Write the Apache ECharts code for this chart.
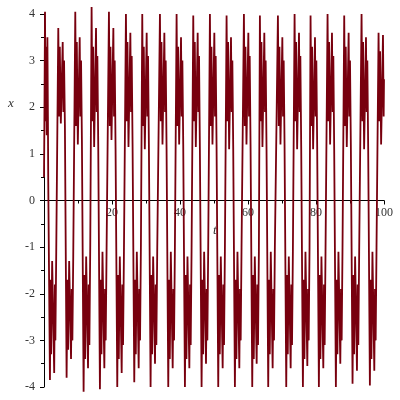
<!DOCTYPE html>
<html>
<head>
<meta charset="utf-8">
<script src="https://cdn.jsdelivr.net/npm/echarts@6/dist/echarts.min.js"></script>
<style>html,body{margin:0;padding:0;background:#fff}#c{width:400px;height:400px}</style>
</head>
<body>
<div id="c"></div>
<script>
const xTicks = [0, 20, 40, 60, 80, 100];
const yTicks = [-4, -3, -2, -1, 0, 1, 2, 3, 4];
const tVals = [
0, 0.1, 0.3, 0.45, 0.6, 0.8, 1.0, 1.15, 1.25, 1.75, 1.95, 2.1, 2.4, 3.0, 3.2, 3.35, 3.6,
4.2, 4.45, 4.65, 4.95, 5.5, 5.7, 5.9, 6.15, 6.65, 6.9, 7.1, 7.4, 7.95, 8.15, 8.35, 8.6,
9.2, 9.45, 9.65, 9.95, 10.5, 10.7, 10.9, 11.15, 11.65, 11.9, 12.1, 12.4, 12.95, 13.15, 13.35, 13.6,
14.0, 14.25, 14.45, 14.75, 15.3, 15.5, 15.7, 15.95, 16.45, 16.7, 16.9, 17.2, 17.75, 17.95, 18.15, 18.4,
19.1, 19.35, 19.55, 19.85, 20.4, 20.6, 20.8, 21.05, 21.55, 21.8, 22.0, 22.3, 22.85, 23.05, 23.25, 23.5,
24.1, 24.35, 24.55, 24.85, 25.4, 25.6, 25.8, 26.05, 26.55, 26.8, 27.0, 27.3, 27.85, 28.05, 28.25, 28.5,
28.9, 29.15, 29.35, 29.65, 30.2, 30.4, 30.6, 30.85, 31.35, 31.6, 31.8, 32.1, 32.65, 32.85, 33.05, 33.3,
34.1, 34.35, 34.55, 34.85, 35.4, 35.6, 35.8, 36.05, 36.55, 36.8, 37.0, 37.3, 37.85, 38.05, 38.25, 38.5,
39.0, 39.25, 39.45, 39.75, 40.3, 40.5, 40.7, 40.95, 41.45, 41.7, 41.9, 42.2, 42.75, 42.95, 43.15, 43.4,
43.9, 44.15, 44.35, 44.65, 45.2, 45.4, 45.6, 45.85, 46.35, 46.6, 46.8, 47.1, 47.65, 47.85, 48.05, 48.3,
48.8, 49.05, 49.25, 49.55, 50.1, 50.3, 50.5, 50.75, 51.25, 51.5, 51.7, 52.0, 52.55, 52.75, 52.95, 53.2,
53.7, 53.95, 54.15, 54.45, 55.0, 55.2, 55.4, 55.65, 56.15, 56.4, 56.6, 56.9, 57.45, 57.65, 57.85, 58.1,
58.8, 59.05, 59.25, 59.55, 60.1, 60.3, 60.5, 60.75, 61.25, 61.5, 61.7, 62.0, 62.55, 62.75, 62.95, 63.2,
63.5, 63.75, 63.95, 64.25, 64.8, 65.0, 65.2, 65.45, 65.95, 66.2, 66.4, 66.7, 67.25, 67.45, 67.65, 67.9,
68.8, 69.05, 69.25, 69.55, 70.1, 70.3, 70.5, 70.75, 71.25, 71.5, 71.7, 72.0, 72.55, 72.75, 72.95, 73.2,
73.7, 73.95, 74.15, 74.45, 75.0, 75.2, 75.4, 75.65, 76.15, 76.4, 76.6, 76.9, 77.45, 77.65, 77.85, 78.1,
78.4, 78.65, 78.85, 79.15, 79.7, 79.9, 80.1, 80.35, 80.85, 81.1, 81.3, 81.6, 82.15, 82.35, 82.55, 82.8,
83.4, 83.65, 83.85, 84.15, 84.7, 84.9, 85.1, 85.35, 85.85, 86.1, 86.3, 86.6, 87.15, 87.35, 87.55, 87.8,
88.3, 88.55, 88.75, 89.05, 89.6, 89.8, 90.0, 90.25, 90.75, 91.0, 91.2, 91.5, 92.05, 92.25, 92.45, 92.7,
93.4, 93.65, 93.85, 94.15, 94.7, 94.9, 95.1, 95.35, 95.85, 96.1, 96.3, 96.6, 97.15, 97.35, 97.55, 97.8,
98.4, 98.65, 98.85, 99.15, 99.7, 99.9, 100
];
const xVals = [
0.5, 1.5, 4.05, 1.7, 3.3, 1.4, 3.5, 1.8, 0.4, -3.85, -1.7, -3.3, -1.3, -3.7, -1.8, -3.0, -1.1,
3.7, 1.8, 3.3, 1.65, 3.4, 1.9, 3.0, 1.6, -3.8, -1.7, -3.2, -1.3, -3.4, -1.9, -3.0, -1.2,
4.05, 1.6, 3.4, 1.2, 3.5, 1.8, 3.0, 1.3, -4.1, -1.6, -3.4, -1.2, -3.6, -1.8, -3.1, -1.0,
4.15, 1.7, 3.3, 1.15, 3.7, 1.9, 3.1, 1.2, -4.05, -1.7, -3.3, -1.1, -3.6, -1.9, -3.0, -1.1,
4.05, 1.6, 3.3, 1.3, 3.7, 1.8, 3.0, 1.1, -4.0, -1.6, -3.4, -1.2, -3.7, -1.8, -3.1, -1.2,
4.0, 1.7, 3.4, 1.15, 3.6, 1.9, 3.1, 1.2, -3.9, -1.7, -3.3, -1.1, -3.6, -1.9, -3.0, -1.0,
4.0, 1.6, 3.3, 1.1, 3.6, 1.8, 3.1, 1.2, -4.0, -1.6, -3.3, -1.2, -3.5, -1.8, -3.1, -1.1,
4.0, 1.7, 3.4, 1.2, 3.6, 1.9, 3.0, 1.1, -4.0, -1.7, -3.4, -1.1, -3.6, -1.9, -3.0, -1.0,
4.0, 1.6, 3.3, 1.2, 3.5, 1.8, 3.0, 1.2, -4.0, -1.6, -3.4, -1.2, -3.6, -1.8, -3.1, -1.1,
3.97, 1.7, 3.4, 1.15, 3.6, 1.9, 3.1, 1.1, -4.0, -1.7, -3.3, -1.1, -3.5, -1.9, -3.0, -1.0,
4.0, 1.6, 3.3, 1.2, 3.6, 1.8, 3.1, 1.2, -4.0, -1.6, -3.3, -1.2, -3.6, -1.8, -3.1, -1.1,
3.97, 1.7, 3.4, 1.1, 3.5, 1.9, 3.0, 1.15, -4.0, -1.7, -3.4, -1.1, -3.6, -1.9, -3.0, -1.0,
4.0, 1.6, 3.3, 1.2, 3.6, 1.8, 3.1, 1.2, -4.0, -1.6, -3.4, -1.2, -3.5, -1.8, -3.1, -1.1,
3.97, 1.7, 3.4, 1.15, 3.6, 1.9, 3.0, 1.1, -4.0, -1.7, -3.3, -1.1, -3.6, -1.9, -3.0, -1.0,
3.97, 1.6, 3.3, 1.2, 3.5, 1.8, 3.0, 1.2, -4.0, -1.6, -3.3, -1.2, -3.6, -1.8, -3.1, -1.1,
4.0, 1.7, 3.4, 1.1, 3.6, 1.9, 3.1, 1.15, -4.0, -1.7, -3.4, -1.1, -3.55, -1.9, -3.0, -1.0,
3.97, 1.6, 3.3, 1.1, 3.5, 1.8, 3.0, 1.15, -4.0, -1.6, -3.4, -1.2, -3.6, -1.8, -3.1, -1.1,
4.0, 1.7, 3.4, 1.2, 3.6, 1.9, 3.1, 1.1, -4.0, -1.7, -3.3, -1.1, -3.5, -1.9, -3.0, -1.0,
3.97, 1.6, 3.3, 1.15, 3.6, 1.8, 3.0, 1.2, -3.93, -1.6, -3.3, -1.2, -3.65, -1.8, -3.1, -1.1,
4.0, 1.7, 3.4, 1.1, 3.5, 1.9, 3.0, 1.1, -3.97, -1.7, -3.4, -1.1, -3.65, -1.9, -3.0, -1.0,
3.6, 1.7, 3.2, 1.2, 3.55, 1.8, 2.6
];
const seriesData = tVals.map((t, i) => [t, xVals[i]]);
const chart = echarts.init(document.getElementById('c'), null, {renderer: 'canvas'});
const lblFont = {color: '#333', fontFamily: 'Liberation Serif', fontSize: 12};
chart.setOption({
  animation: false,
  backgroundColor: '#fff',
  grid: {left: 44, top: 14, width: 340, height: 373, containLabel: false, outerBoundsMode: 'none'},
  xAxis: {
    type: 'value', min: 0, max: 100, interval: 20, position: 'bottom', offset: -186.5,
    axisLine: {onZero: false, lineStyle: {color: '#000', width: 1}},
    axisTick: {show: true, length: 4, inside: false, lineStyle: {color: '#000'}},
    minorTick: {show: true, splitNumber: 2, length: 3, lineStyle: {color: '#000'}},
    splitLine: {show: false},
    axisLabel: Object.assign({margin: 6, customValues: xTicks.slice(1)}, lblFont)
  },
  yAxis: {
    type: 'value', min: -4, max: 4, interval: 1,
    axisLine: {onZero: false, lineStyle: {color: '#000', width: 1}},
    axisTick: {show: true, length: 4, lineStyle: {color: '#000'}},
    minorTick: {show: true, splitNumber: 2, length: 3, lineStyle: {color: '#000'}},
    splitLine: {show: false},
    axisLabel: Object.assign({margin: 9, customValues: yTicks}, lblFont)
  },
  graphic: [
    {type: 'text', left: 8, top: 97, style: {text: 'x', font: 'italic 13px "Liberation Serif"', fill: '#333'}},
    {type: 'text', left: 213, top: 224, style: {text: 't', font: 'italic 13px "Liberation Serif"', fill: '#333'}}
  ],
  series: [{
    type: 'line', data: seriesData, showSymbol: false, clip: false,
    lineStyle: {color: '#78000e', width: 1.8}
  }]
});
</script>
</body>
</html>
